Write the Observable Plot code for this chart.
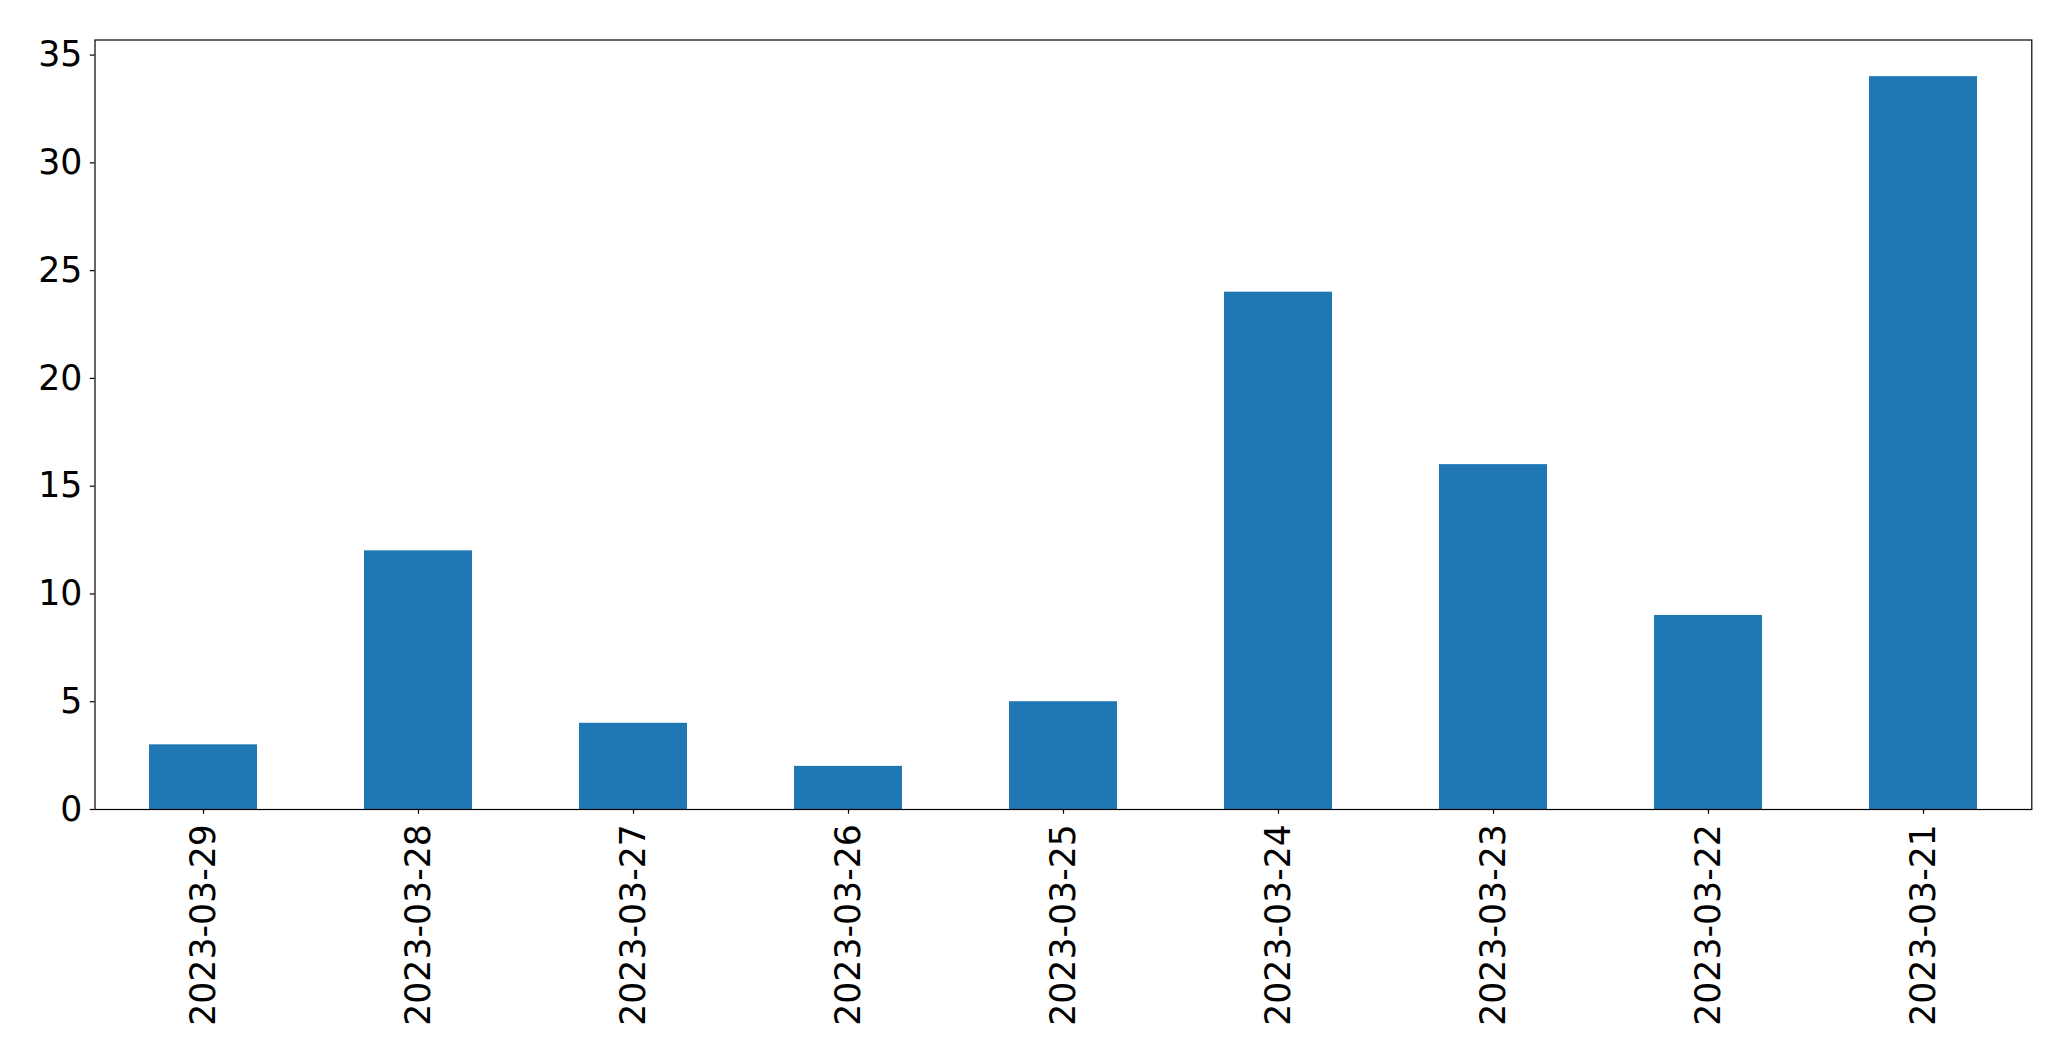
<!DOCTYPE html>
<html>
<head>
<meta charset="utf-8">
<script src="https://cdn.jsdelivr.net/npm/d3@7"></script>
<script src="https://cdn.jsdelivr.net/npm/@observablehq/plot@0.6"></script>
<style>
  html, body { margin: 0; padding: 0; background: #fff; }
  #chart svg { display: block; }
</style>
</head>
<body>
<div id="chart"></div>
<script>
const dates = ["2023-03-29", "2023-03-28", "2023-03-27", "2023-03-26", "2023-03-25", "2023-03-24", "2023-03-23", "2023-03-22", "2023-03-21"];
const counts = [3, 12, 4, 2, 5, 24, 16, 9, 34];
const yTicks = [0, 5, 10, 15, 20, 25, 30, 35];

const data = dates.map((d, i) => ({date: d, count: counts[i]}));

const chart = Plot.plot({
  width: 2071,
  height: 1061,
  marginLeft: 94.5,
  marginRight: 39.7,
  marginTop: 39.5,
  marginBottom: 252,
  style: {fontFamily: "DejaVu Sans", fontSize: "34.7px", color: "#000", background: "#fff"},
  x: {domain: dates, paddingInner: 0.5, paddingOuter: 0.25, label: null},
  y: {domain: [0, 35.7], label: null},
  marks: [
    Plot.barY(data, {x: "date", y: "count", fill: "#1f77b4"}),
    Plot.axisY({ticks: yTicks, tickSize: 4.7, tickPadding: 8, fontSize: 34.7, fill: "#000", label: null, strokeWidth: 1.2, stroke: "#000"}),
    Plot.axisX({tickSize: 4.7, tickPadding: 10, tickRotate: -90, fontSize: 34.7, fill: "#000", label: null, strokeWidth: 1.2, stroke: "#000"}),
    Plot.frame({stroke: "#000", strokeWidth: 1.2})
  ]
});
document.getElementById("chart").appendChild(chart);
</script>
</body>
</html>
